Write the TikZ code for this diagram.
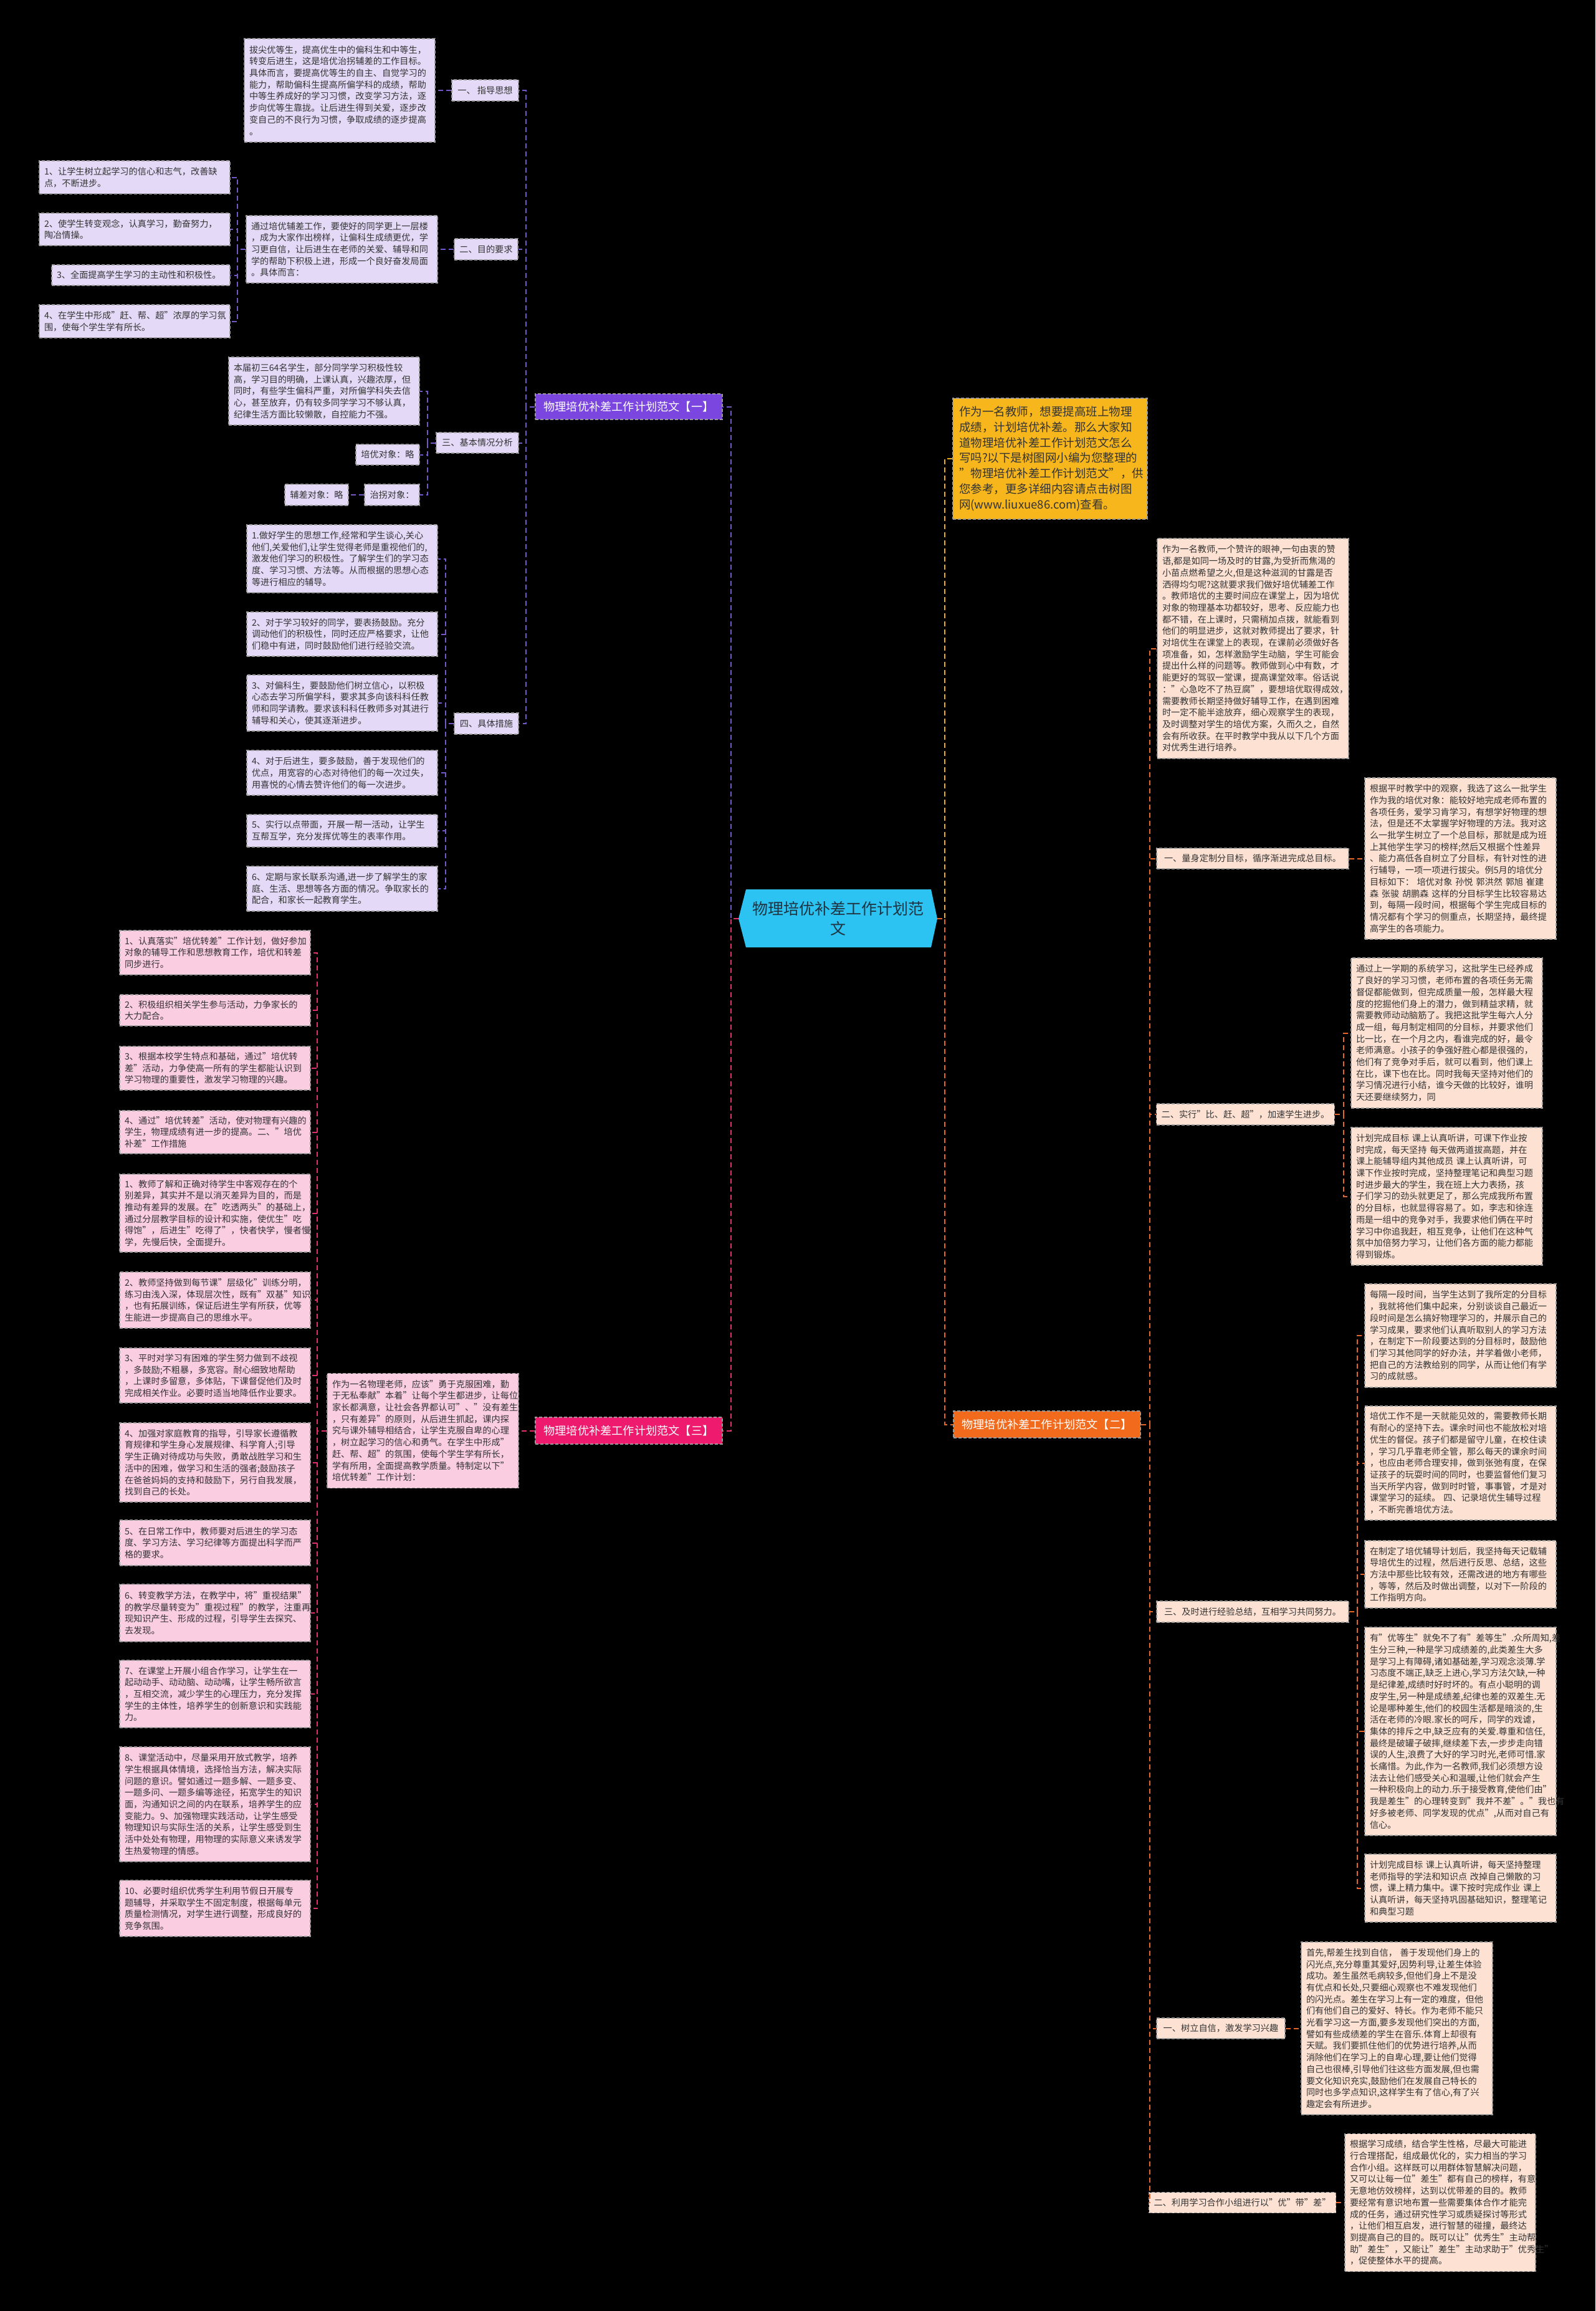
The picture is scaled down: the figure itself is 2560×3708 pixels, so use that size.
\documentclass[tikz,border=0pt]{standalone}
\usepackage{fontspec}
\setmainfont{Noto Sans CJK SC}
\definecolor{pfill}{HTML}{E4DAF8}
\definecolor{pline}{HTML}{7458C8}
\definecolor{pmain}{HTML}{7B45E0}
\definecolor{kfill}{HTML}{FACDE1}
\definecolor{kline}{HTML}{E0306E}
\definecolor{kmain}{HTML}{EE1A6E}
\definecolor{ofill}{HTML}{FDE2D3}
\definecolor{oline}{HTML}{E5662A}
\definecolor{omain}{HTML}{F26B1D}
\definecolor{yfill}{HTML}{F7B61C}
\definecolor{yline}{HTML}{E8B020}
\definecolor{cfill}{HTML}{2CC3F2}
\definecolor{ctxt}{HTML}{1F3340}
\definecolor{txt}{HTML}{333333}
\definecolor{bord}{HTML}{9A9A9A}
\newcommand\fsm{\fontsize{14.2}{18.7}\selectfont}
\newcommand\fbig{\fontsize{18.5}{24.8}\selectfont}
\newcommand\fbr{\fontsize{18.2}{22}\selectfont}
\newcommand\fctr{\fontsize{25}{32}\selectfont}
\tikzset{
 boxbase/.style={draw=bord, dash pattern=on 5pt off 3pt, line width=1.3pt, text=txt, font=\fsm, inner xsep=8pt, inner ysep=3pt, align=left},
 pb/.style={boxbase, fill=pfill},
 kb/.style={boxbase, fill=kfill},
 ob/.style={boxbase, fill=ofill},
 plab/.style={pb, align=center},
 olab/.style={ob, align=center},
 branch/.style={draw=bord, dash pattern=on 5pt off 3pt, line width=1.3pt, text=white, font=\fbr, minimum width=300, align=center, inner sep=3pt},
 conn/.style={dash pattern=on 8pt off 5pt, line width=2pt},
 pc/.style={conn, draw=pline},
 kc/.style={conn, draw=kline},
 oc/.style={conn, draw=oline},
 yc/.style={conn, draw=yline},
}
\begin{document}
\begin{tikzpicture}[x=1pt,y=-1pt]
\fill[black] (0,0) rectangle (2560,3708);
\useasboundingbox (0,0) rectangle (2560,3708);

% ---------------- center ----------------
\fill[cfill] (1185,1474) -- (1197,1427) -- (1494,1427) -- (1504,1474) -- (1494,1520) -- (1197,1520) -- cycle;
\node[minimum width=319, minimum height=93, font=\fctr, text=ctxt, align=center, inner sep=0pt] (C) at (1344.5,1474) {物理培优补差工作计划范\\文};

% ---------------- branch 一 (purple) ----------------
\node[branch, fill=pmain, minimum height=41] (b1) at (1009,652.5) {物理培优补差工作计划范文【一】};

\node[pb, minimum width=306, minimum height=166, text width=290pt] (p1) at (545,145) {拔尖优等生，提高优生中的偏科生和中等生，\\转变后进生，这是培优治拐辅差的工作目标。\\具体而言，要提高优等生的自主、自觉学习的\\能力，帮助偏科生提高所偏学科的成绩，帮助\\中等生养成好的学习习惯，改变学习方法，逐\\步向优等生靠拢。让后进生得到关爱，逐步改\\变自己的不良行为习惯，争取成绩的逐步提高\\。};
\node[plab, minimum width=107, minimum height=34] (l1) at (778.5,145) {一、 指导思想};

\node[plab, minimum width=102, minimum height=34] (l2) at (780,400) {二、目的要求};
\node[pb, minimum width=307, minimum height=108, text width=291pt] (p2) at (548.5,400) {通过培优辅差工作，要使好的同学更上一层楼\\，成为大家作出榜样，让偏科生成绩更优，学\\习更自信，让后进生在老师的关爱、辅导和同\\学的帮助下积极上进，形成一个良好奋发局面\\。具体而言：};
\node[pb, minimum width=306, minimum height=53, text width=290pt] (p2a) at (216,284.5) {1、让学生树立起学习的信心和志气，改善缺\\点，不断进步。};
\node[pb, minimum width=306, minimum height=52, text width=290pt] (p2b) at (216,368) {2、使学生转变观念，认真学习，勤奋努力，\\陶冶情操。};
\node[pb, minimum width=286, minimum height=33, text width=270pt] (p2c) at (226,441.5) {3、全面提高学生学习的主动性和积极性。};
\node[pb, minimum width=306, minimum height=53, text width=290pt] (p2d) at (216,515.5) {4、在学生中形成"赶、帮、超"浓厚的学习氛\\围，使每个学生学有所长。};

\node[plab, minimum width=132, minimum height=33] (l3) at (766,710.5) {三、基本情况分析};
\node[pb, minimum width=306, minimum height=109, text width=290pt] (p3a) at (520,627.5) {本届初三64名学生，部分同学学习积极性较\\高，学习目的明确，上课认真，兴趣浓厚，但\\同时，有些学生偏科严重，对所偏学科失去信\\心，甚至放弃，仍有较多同学学习不够认真，\\纪律生活方面比较懒散，自控能力不强。};
\node[plab, minimum width=102, minimum height=33] (p3b) at (622,729.5) {培优对象：略};
\node[plab, minimum width=88, minimum height=34] (p3c) at (629,794) {治拐对象：};
\node[plab, minimum width=102, minimum height=34] (p3d) at (508,794) {辅差对象：略};

\node[plab, minimum width=103, minimum height=34] (l4) at (780.5,1161) {四、具体措施};
\node[pb, minimum width=306, minimum height=109, text width=290pt] (p4a) at (549,896.5) {1.做好学生的思想工作,经常和学生谈心,关心\\他们,关爱他们,让学生觉得老师是重视他们的,\\激发他们学习的积极性。了解学生们的学习态\\度、学习习惯、方法等。从而根据的思想心态\\等进行相应的辅导。};
\node[pb, minimum width=306, minimum height=71, text width=290pt] (p4b) at (549,1017.5) {2、对于学习较好的同学，要表扬鼓励。充分\\调动他们的积极性，同时还应严格要求，让他\\们稳中有进，同时鼓励他们进行经验交流。};
\node[pb, minimum width=306, minimum height=90, text width=290pt] (p4c) at (549,1128) {3、对偏科生，要鼓励他们树立信心，以积极\\心态去学习所偏学科，要求其多向该科科任教\\师和同学请教。要求该科科任教师多对其进行\\辅导和关心，使其逐渐进步。};
\node[pb, minimum width=306, minimum height=72, text width=290pt] (p4d) at (549,1240) {4、对于后进生，要多鼓励，善于发现他们的\\优点，用宽容的心态对待他们的每一次过失，\\用喜悦的心情去赞许他们的每一次进步。};
\node[pb, minimum width=306, minimum height=52, text width=290pt] (p4e) at (549,1333) {5、实行以点带面，开展一帮一活动，让学生\\互帮互学，充分发挥优等生的表率作用。};
\node[pb, minimum width=306, minimum height=72, text width=290pt] (p4f) at (549,1426) {6、定期与家长联系沟通,进一步了解学生的家\\庭、生活、思想等各方面的情况。争取家长的\\配合，和家长一起教育学生。};

% ---------------- branch 三 (pink) ----------------
\node[branch, fill=kmain, minimum height=43] (b3) at (1009,2295.5) {物理培优补差工作计划范文【三】};
\node[kb, minimum width=307, minimum height=184, text width=291pt] (k0) at (678.5,2295.5) {作为一名物理老师，应该"勇于克服困难，勤\\于无私奉献"本着"让每个学生都进步，让每位\\家长都满意，让社会各界都认可"、"没有差生\\，只有差异"的原则，从后进生抓起，课内探\\究与课外辅导相结合，让学生克服自卑的心理\\，树立起学习的信心和勇气。在学生中形成"\\赶、帮、超"的氛围，使每个学生学有所长，\\学有所用，全面提高教学质量。特制定以下"\\培优转差"工作计划：};

\node[kb, minimum width=306, minimum height=71, text width=290pt] (k1) at (345,1528.5) {1、认真落实"培优转差"工作计划，做好参加\\对象的辅导工作和思想教育工作，培优和转差\\同步进行。};
\node[kb, minimum width=306, minimum height=50, text width=290pt] (k2) at (345,1621) {2、积极组织相关学生参与活动，力争家长的\\大力配合。};
\node[kb, minimum width=306, minimum height=70, text width=290pt] (k3) at (345,1714) {3、根据本校学生特点和基础，通过"培优转\\差"活动，力争使高一所有的学生都能认识到\\学习物理的重要性，激发学习物理的兴趣。};
\node[kb, minimum width=306, minimum height=69, text width=290pt] (k4) at (345,1816.5) {4、通过"培优转差"活动，使对物理有兴趣的\\学生，物理成绩有进一步的提高。二、"培优\\补差"工作措施};
\node[kb, minimum width=306, minimum height=125, text width=290pt] (k5) at (345,1946.5) {1、教师了解和正确对待学生中客观存在的个\\别差异，其实并不是以消灭差异为目的，而是\\推动有差异的发展。在"吃透两头"的基础上，\\通过分层教学目标的设计和实施，使优生"吃\\得饱"，后进生"吃得了"，快者快学，慢者慢\\学，先慢后快，全面提升。};
\node[kb, minimum width=306, minimum height=90, text width=290pt] (k6) at (345,2086) {2、教师坚持做到每节课"层级化"训练分明，\\练习由浅入深，体现层次性，既有"双基"知识\\，也有拓展训练，保证后进生学有所获，优等\\生能进一步提高自己的思维水平。};
\node[kb, minimum width=306, minimum height=88, text width=290pt] (k7) at (345,2207) {3、平时对学习有困难的学生努力做到不歧视\\，多鼓励;不粗暴，多宽容。耐心细致地帮助\\，上课时多留意，多体贴，下课督促他们及时\\完成相关作业。必要时适当地降低作业要求。};
\node[kb, minimum width=306, minimum height=127, text width=290pt] (k8) at (345,2346.5) {4、加强对家庭教育的指导，引导家长遵循教\\育规律和学生身心发展规律、科学育人;引导\\学生正确对待成功与失败，勇敢战胜学习和生\\活中的困难，做学习和生活的强者;鼓励孩子\\在爸爸妈妈的支持和鼓励下，另行自我发展，\\找到自己的长处。};
\node[kb, minimum width=306, minimum height=73, text width=290pt] (k9) at (345,2475.5) {5、在日常工作中，教师要对后进生的学习态\\度、学习方法、学习纪律等方面提出科学而严\\格的要求。};
\node[kb, minimum width=306, minimum height=92, text width=290pt] (k10) at (345,2588) {6、转变教学方法，在教学中，将"重视结果"\\的教学尽量转变为"重视过程"的教学，注重再\\现知识产生、形成的过程，引导学生去探究、\\去发现。};
\node[kb, minimum width=306, minimum height=108, text width=290pt] (k11) at (345,2718) {7、在课堂上开展小组合作学习，让学生在一\\起动动手、动动脑、动动嘴，让学生畅所欲言\\，互相交流，减少学生的心理压力，充分发挥\\学生的主体性，培养学生的创新意识和实践能\\力。};
\node[kb, minimum width=306, minimum height=184, text width=290pt] (k12) at (345,2895) {8、课堂活动中，尽量采用开放式教学，培养\\学生根据具体情境，选择恰当方法，解决实际\\问题的意识。譬如通过一题多解、一题多变、\\一题多问、一题多编等途径，拓宽学生的知识\\面，沟通知识之间的内在联系，培养学生的应\\变能力。9、加强物理实践活动，让学生感受\\物理知识与实际生活的关系，让学生感受到生\\活中处处有物理，用物理的实际意义来诱发学\\生热爱物理的情感。};
\node[kb, minimum width=306, minimum height=90, text width=290pt] (k13) at (345,3062) {10、必要时组织优秀学生利用节假日开展专\\题辅导，并采取学生不固定制度，根据每单元\\质量检测情况，对学生进行调整，形成良好的\\竞争氛围。};

% ---------------- yellow intro ----------------
\node[boxbase, fill=yfill, font=\fbig, minimum width=312, minimum height=194, text width=292pt, inner xsep=10pt] (y0) at (1685,736) {作为一名教师，想要提高班上物理\\成绩，计划培优补差。那么大家知\\道物理培优补差工作计划范文怎么\\写吗?以下是树图网小编为您整理的\\"物理培优补差工作计划范文"，供\\您参考，更多详细内容请点击树图\\网(www.liuxue86.com)查看。};

% ---------------- branch 二 (orange) ----------------
\node[branch, fill=omain, minimum height=43] (b2) at (1680,2285.5) {物理培优补差工作计划范文【二】};

\node[ob, minimum width=307, minimum height=353, text width=291pt] (o0) at (2010.5,1040.5) {作为一名教师,一个赞许的眼神,一句由衷的赞\\语,都是如同一场及时的甘露,为受折而焦渴的\\小苗点燃希望之火,但是这种滋润的甘露是否\\洒得均匀呢?这就要求我们做好培优辅差工作\\。教师培优的主要时间应在课堂上，因为培优\\对象的物理基本功都较好，思考、反应能力也\\都不错，在上课时，只需稍加点拨，就能看到\\他们的明显进步，这就对教师提出了要求，针\\对培优生在课堂上的表现，在课前必须做好各\\项准备，如，怎样激励学生动脑，学生可能会\\提出什么样的问题等。教师做到心中有数，才\\能更好的驾驭一堂课，提高课堂效率。俗话说\\："心急吃不了热豆腐"，要想培优取得成效，\\需要教师长期坚持做好辅导工作，在遇到困难\\时一定不能半途放弃，细心观察学生的表现，\\及时调整对学生的培优方案，久而久之，自然\\会有所收获。在平时教学中我从以下几个方面\\对优秀生进行培养。};

\node[olab, minimum width=308, minimum height=33] (ol1) at (2010,1377.5) {一、量身定制分目标，循序渐进完成总目标。};
\node[ob, minimum width=307, minimum height=259, text width=291pt] (o1) at (2343.5,1377.5) {根据平时教学中的观察，我选了这么一批学生\\作为我的培优对象：能较好地完成老师布置的\\各项任务，爱学习肯学习，有想学好物理的想\\法，但是还不太掌握学好物理的方法。我对这\\么一批学生树立了一个总目标，那就是成为班\\上其他学生学习的榜样;然后又根据个性差异\\、能力高低各自树立了分目标，有针对性的进\\行辅导，一项一项进行拔尖。例5月的培优分\\目标如下： 培优对象 孙悦 郭洪然 郭旭 崔建\\森 张骏 胡鹏森 这样的分目标学生比较容易达\\到，每隔一段时间，根据每个学生完成目标的\\情况都有个学习的侧重点，长期坚持，最终提\\高学生的各项能力。};

\node[olab, minimum width=285, minimum height=34] (ol2) at (1998.5,1788) {二、实行"比、赶、超"，加速学生进步。};
\node[ob, minimum width=307, minimum height=241, text width=291pt] (o2a) at (2321.5,1657.5) {通过上一学期的系统学习，这批学生已经养成\\了良好的学习习惯，老师布置的各项任务无需\\督促都能做到，但完成质量一般，怎样最大程\\度的挖掘他们身上的潜力，做到精益求精，就\\需要教师动动脑筋了。我把这批学生每六人分\\成一组，每月制定相同的分目标，并要求他们\\比一比，在一个月之内，看谁完成的好，最令\\老师满意。小孩子的争强好胜心都是很强的，\\他们有了竞争对手后，就可以看到，他们课上\\在比，课下也在比。同时我每天坚持对他们的\\学习情况进行小结，谁今天做的比较好，谁明\\天还要继续努力，同};
\node[ob, minimum width=307, minimum height=221, text width=291pt] (o2b) at (2321.5,1919.5) {计划完成目标 课上认真听讲，可课下作业按\\时完成，每天坚持 每天做两道拔高题，并在\\课上能辅导组内其他成员 课上认真听讲，可\\课下作业按时完成，坚持整理笔记和典型习题\\时进步最大的学生，我在班上大力表扬，孩\\子们学习的劲头就更足了，那么完成我所布置\\的分目标，也就显得容易了。如，李志和徐连\\雨是一组中的竞争对手，我要求他们俩在平时\\学习中你追我赶，相互竞争，让他们在这种气\\氛中加倍努力学习，让他们各方面的能力都能\\得到锻炼。};

\node[olab, minimum width=308, minimum height=34] (ol3) at (2010,2586) {三、及时进行经验总结，互相学习共同努力。};
\node[ob, minimum width=307, minimum height=166, text width=291pt] (o3a) at (2343.5,2143) {每隔一段时间，当学生达到了我所定的分目标\\，我就将他们集中起来，分别谈谈自己最近一\\段时间是怎么搞好物理学习的，并展示自己的\\学习成果，要求他们认真听取别人的学习方法\\，在制定下一阶段要达到的分目标时，鼓励他\\们学习其他同学的好办法，并学着做小老师，\\把自己的方法教给别的同学，从而让他们有学\\习的成就感。};
\node[ob, minimum width=307, minimum height=183, text width=291pt] (o3b) at (2343.5,2347.5) {培优工作不是一天就能见效的，需要教师长期\\有耐心的坚持下去。课余时间也不能放松对培\\优生的督促。孩子们都是留守儿童，在校住读\\，学习几乎靠老师全管，那么每天的课余时间\\，也应由老师合理安排，做到张弛有度，在保\\证孩子的玩耍时间的同时，也要监督他们复习\\当天所学内容，做到时时管，事事管，才是对\\课堂学习的延续。 四、记录培优生辅导过程\\，不断完善培优方法。};
\node[ob, minimum width=307, minimum height=108, text width=291pt] (o3c) at (2343.5,2526) {在制定了培优辅导计划后，我坚持每天记载辅\\导培优生的过程，然后进行反思、总结，这些\\方法中那些比较有效，还需改进的地方有哪些\\，等等，然后及时做出调整，以对下一阶段的\\工作指明方向。};
\node[ob, minimum width=307, minimum height=334, text width=291pt] (o3d) at (2343.5,2778) {有"优等生"就免不了有"差等生".众所周知,差\\生分三种,一种是学习成绩差的,此类差生大多\\是学习上有障碍,诸如基础差,学习观念淡薄.学\\习态度不端正,缺乏上进心,学习方法欠缺,一种\\是纪律差,成绩时好时坏的。有点小聪明的调\\皮学生,另一种是成绩差,纪律也差的双差生.无\\论是哪种差生,他们的校园生活都是暗淡的,生\\活在老师的冷眼.家长的呵斥，同学的戏谑，\\集体的排斥之中,缺乏应有的关爱.尊重和信任,\\最终是破罐子破摔,继续差下去,一步步走向错\\误的人生,浪费了大好的学习时光,老师可惜.家\\长痛惜。为此,作为一名教师,我们必须想方设\\法去让他们感受关心和温暖,让他们就会产生\\一种积极向上的动力.乐于接受教育,使他们由"\\我是差生"的心理转变到"我并不差"。"我也有\\好多被老师、同学发现的优点",从而对自己有\\信心。};
\node[ob, minimum width=307, minimum height=109, text width=291pt] (o3e) at (2343.5,3029.5) {计划完成目标 课上认真听讲，每天坚持整理\\老师指导的学法和知识点 改掉自己懒散的习\\惯，课上精力集中。课下按时完成作业 课上\\认真听讲，每天坚持巩固基础知识，整理笔记\\和典型习题};

\node[olab, minimum width=206, minimum height=33] (ol4) at (1959,3254.5) {一、树立自信，激发学习兴趣};
\node[ob, minimum width=307, minimum height=277, text width=291pt] (o4) at (2241.5,3254.5) {首先,帮差生找到自信， 善于发现他们身上的\\闪光点,充分尊重其爱好,因势利导,让差生体验\\成功。差生虽然毛病较多,但他们身上不是没\\有优点和长处,只要细心观察也不难发现他们\\的闪光点。差生在学习上有一定的难度，但他\\们有他们自己的爱好、特长。作为老师不能只\\光看学习这一方面,要多发现他们突出的方面,\\譬如有些成绩差的学生在音乐.体育上却很有\\天赋。我们要抓住他们的优势进行培养,从而\\消除他们在学习上的自卑心理,要让他们觉得\\自己也很棒,引导他们往这些方面发展,但也需\\要文化知识充实,鼓励他们在发展自己特长的\\同时也多学点知识,这样学生有了信心,有了兴\\趣定会有所进步。};

\node[olab, minimum width=275, minimum height=33] (ol5) at (1993.5,3534) {二、利用学习合作小组进行以"优"带"差"};
\node[ob, minimum width=306, minimum height=221, text width=290pt] (o5) at (2311,3534) {根据学习成绩，结合学生性格，尽最大可能进\\行合理搭配，组成最优化的，实力相当的学习\\合作小组。这样既可以用群体智慧解决问题，\\又可以让每一位"差生"都有自己的榜样，有意\\无意地仿效榜样，达到以优带差的目的。教师\\要经常有意识地布置一些需要集体合作才能完\\成的任务，通过研究性学习或质疑探讨等形式\\，让他们相互启发，进行智慧的碰撞，最终达\\到提高自己的目的。既可以让"优秀生"主动帮\\助"差生"，又能让"差生"主动求助于"优秀生"\\，促使整体水平的提高。};

% ---------------- connectors ----------------
\draw[pc] (C.west) -- ++(-12,0) |- (b1.east);
\draw[kc] (C.west) -- ++(-12,0) |- (b3.east);
\draw[yc] (C.east) -- ++(12,0) |- (y0.west);
\draw[oc] (C.east) -- ++(12,0) |- (b2.west);

\foreach \t in {l1,l2,l3,l4} \draw[pc] (b1.west) -- ++(-14,0) |- (\t.east);
\draw[pc] (l1.west) -- (p1.east);
\draw[pc] (l2.west) -- (p2.east);
\foreach \t in {p2a,p2b,p2c,p2d} \draw[pc] (p2.west) -- ++(-13,0) |- (\t.east);
\foreach \t in {p3a,p3b,p3c} \draw[pc] (l3.west) -- ++(-13,0) |- (\t.east);
\draw[pc] (p3c.west) -- (p3d.east);
\foreach \t in {p4a,p4b,p4c,p4d,p4e,p4f} \draw[pc] (l4.west) -- ++(-13,0) |- (\t.east);

\draw[kc] (b3.west) -- (k0.east);
\foreach \t in {k1,k2,k3,k4,k5,k6,k7,k8,k9,k10,k11,k12,k13} \draw[kc] (k0.west) -- ++(-15,0) |- (\t.east);

\foreach \t in {o0,ol1,ol2,ol3,ol4,ol5} \draw[oc] (b2.east) -- ++(14,0) |- (\t.west);
\draw[oc] (ol1.east) -- (o1.west);
\foreach \t in {o2a,o2b} \draw[oc] (ol2.east) -- ++(14,0) |- (\t.west);
\foreach \t in {o3a,o3b,o3c,o3d,o3e} \draw[oc] (ol3.east) -- ++(13,0) |- (\t.west);
\draw[oc] (ol4.east) -- (o4.west);
\draw[oc] (ol5.east) -- (o5.west);
\end{tikzpicture}
\end{document}
